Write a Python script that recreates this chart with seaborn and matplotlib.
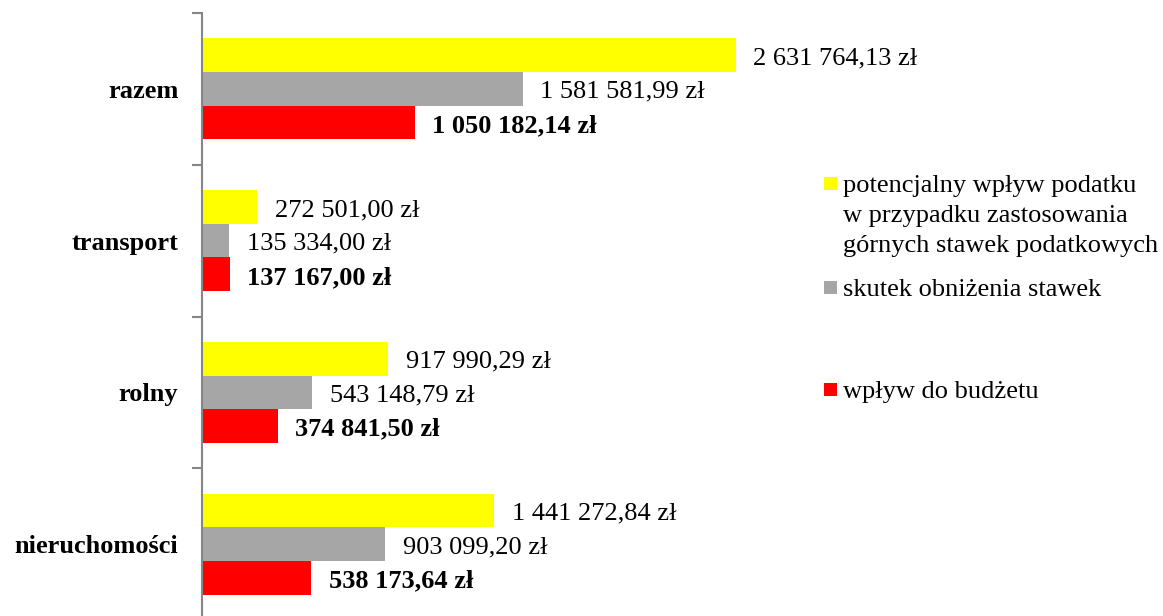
import numpy as np
import pandas as pd
import matplotlib
matplotlib.use("Agg")
import matplotlib.pyplot as plt
from matplotlib.patches import Rectangle
import seaborn as sns

categories = ["razem", "transport", "rolny", "nieruchomości"]
series_names = [
    "potencjalny wpływ podatku\nw przypadku zastosowania\ngórnych stawek podatkowych",
    "skutek obniżenia stawek",
    "wpływ do budżetu",
]
potencjalny = [2631764.13, 272501.00, 917990.29, 1441272.84]
skutek = [1581581.99, 135334.00, 543148.79, 903099.20]
wplyw = [1050182.14, 137167.00, 374841.50, 538173.64]
colors = ["#FFFF00", "#A6A6A6", "#FF0000"]

sns.set_theme(style="white")
plt.rcParams["font.family"] = ["Liberation Serif", "DejaVu Serif"]

rows = []
for s, vals in zip(series_names, [potencjalny, skutek, wplyw]):
    for c, v in zip(categories, vals):
        rows.append({"kategoria": c, "seria": s, "wartosc": v})
df = pd.DataFrame(rows)

W, H = 1163, 616
fig = plt.figure(figsize=(W / 100, H / 100), dpi=100)
ax_left = 202 / W
ax_bottom = (H - 620) / H
ax = fig.add_axes([ax_left, ax_bottom, (W - 202) / W, 607 / H])
ax.patch.set_alpha(0)

sns.barplot(data=df, y="kategoria", x="wartosc", hue="seria", order=categories,
            hue_order=series_names, palette=colors, orient="h", width=0.665,
            saturation=1, ax=ax, legend=False, linewidth=0, errorbar=None)

scale_px = 213 / 1050182.14
ax.set_xlim(0, (W - 202) / scale_px)
ax.set_ylim(3.5, -0.5)

def fmt(v):
    s = f"{v:,.2f}"
    ip, dp = s.split(".")
    return ip.replace(",", " ") + "," + dp + " zł"

pad = 12.5
for i, cont in enumerate(ax.containers):
    vals = [potencjalny, skutek, wplyw][i]
    anns = ax.bar_label(cont, labels=[fmt(v) for v in vals], padding=pad,
                        fontsize=19, fontweight="bold" if i == 2 else "normal",
                        color="black")
    for a in anns:
        a.xyann = (pad, -2.2)

ax.set_xlabel("")
ax.set_ylabel("")
ax.xaxis.set_visible(False)
for sp in ["top", "right", "bottom"]:
    ax.spines[sp].set_visible(False)
ax.spines["left"].set_color("#868686")
ax.spines["left"].set_linewidth(1.5)

ax.set_yticks(range(len(categories)))
ax.set_yticklabels(categories, fontsize=19, fontweight="bold")
ax.tick_params(axis="y", which="major", length=0, pad=17, colors="black")
ax.set_yticks([-0.5, 0.5, 1.5, 2.5, 3.5], minor=True)
ax.tick_params(axis="y", which="minor", length=7, width=1.5, color="#868686", left=True)

# legend drawn manually
def fy(px):
    return 1 - px / H

sq = 13
leg = [(183, 0, ["potencjalny wpływ podatku", "w przypadku zastosowania", "górnych stawek podatkowych"]),
       (287, 1, ["skutek obniżenia stawek"]),
       (389, 2, ["wpływ do budżetu"])]
for yc, ci, lines in leg:
    fig.patches.append(Rectangle((824 / W, fy(yc + sq / 2)), sq / W, sq / H,
                                 transform=fig.transFigure, facecolor=colors[ci],
                                 edgecolor="none"))
    for k, line in enumerate(lines):
        fig.text(843 / W, fy(yc + 3 + k * 30), line, fontsize=19, va="center",
                 ha="left", color="black")

fig.savefig("out.png", dpi=100)
